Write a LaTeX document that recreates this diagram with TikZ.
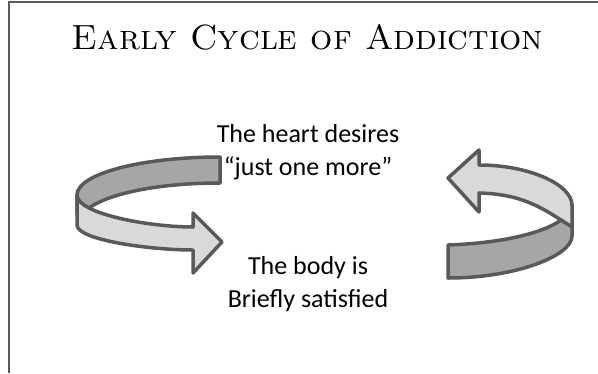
\documentclass[tikz,border=0pt]{standalone}
\usepackage{fontspec}
\newfontfamily\bodyfont{Carlito}
\usetikzlibrary{positioning}
\definecolor{rim}{HTML}{595959}
\definecolor{darkband}{HTML}{A6A6A6}
\definecolor{lightband}{HTML}{D9D9D9}
\tikzset{
  band/.style={draw=rim, line width=3.5pt, line join=round},
  txt/.style={font=\bodyfont\fontsize{26}{33}\selectfont, align=center, inner sep=0pt}
}
\begin{document}
\begin{tikzpicture}[x=1pt,y=-1pt]
\useasboundingbox (0,0) rectangle (598,373);
\draw[rim, line width=2pt] (8.5,373) -- (8.5,2) -- (598,2);
\node[font=\fontsize{35}{40}\selectfont\scshape, anchor=base, inner sep=0pt] (title) at (307.5,49) {Early Cycle of Addiction};

\filldraw[band, fill=darkband] (220,157) .. controls (141,157) and (77,174) .. (77,195)
  -- (77,214) -- (89,208) .. controls (110,193) and (160,183) .. (220,183) -- cycle;
\filldraw[band, fill=lightband] (77,195) .. controls (77,214) and (150,227) .. (193,227)
  -- (193,213) -- (222,242) -- (193,273) -- (193,250)
  .. controls (150,250) and (77,240) .. (77,225) -- cycle;

\filldraw[band, fill=darkband] (448,245) .. controls (505,243) and (545,232) .. (561,220)
  -- (572,215) -- (572,236) .. controls (572,256) and (515,278) .. (448,278) -- cycle;
\filldraw[band, fill=lightband] (479,165) .. controls (530,165) and (572,185) .. (572,205)
  -- (572,227) -- (561,220) .. controls (535,203) and (515,194) .. (479,193)
  -- (479,212) -- (448,178) -- (479,150) -- cycle;

\node[txt] (heart) at (308,152.5) {The heart desires\\“just one more”};
\node[txt, below=76pt of heart] (body) {The body is\\Briefly satisfied};
\end{tikzpicture}
\end{document}
